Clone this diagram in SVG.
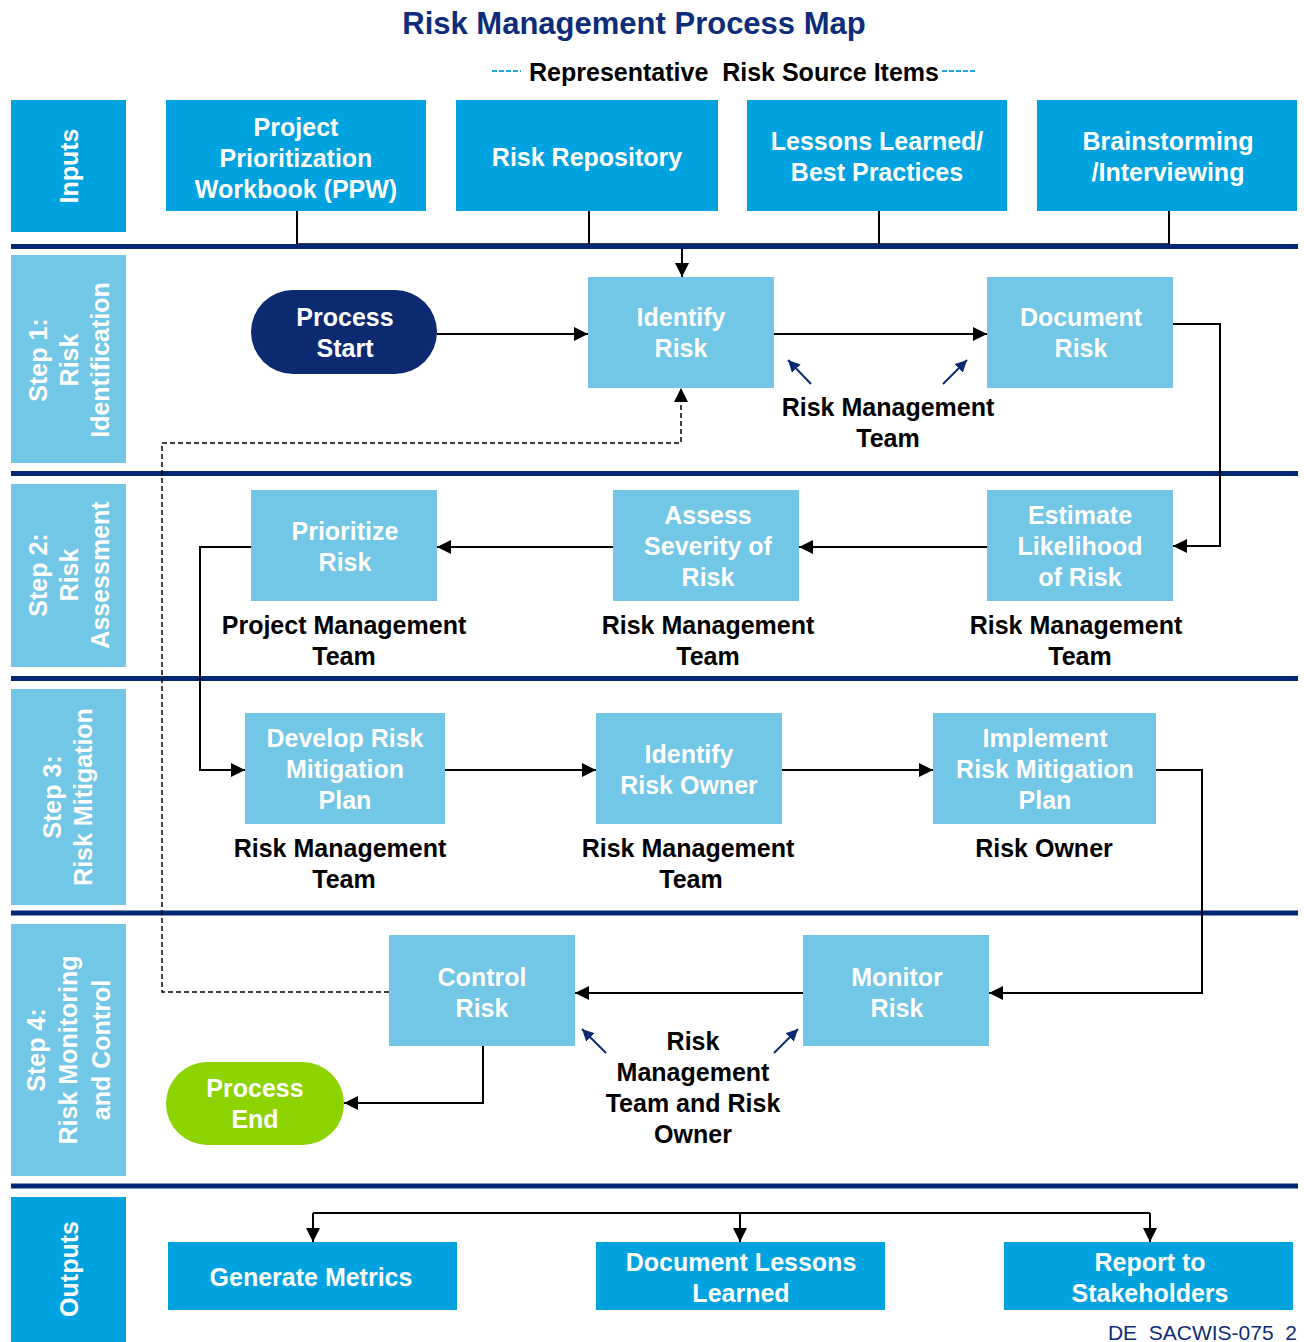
<svg xmlns="http://www.w3.org/2000/svg" width="1304" height="1342" viewBox="0 0 1304 1342">
<defs>
<style>
text{font-family:"Liberation Sans",Arial,sans-serif;font-weight:bold}
.title{font-size:31px;fill:#0D2C7A}
.sub{font-size:25px;fill:#000}
.w{font-size:25px;fill:#fff;text-anchor:middle}
.lbl{font-size:25px;fill:#000;text-anchor:middle}
.lane{font-size:25px;fill:#fff;text-anchor:middle}
.cyan{fill:#00A3E0}
.lb{fill:#72C6E6}
.div{stroke:#002776;stroke-width:5}
.c{fill:none;stroke:#000;stroke-width:2}
.d{fill:none;stroke:#000;stroke-width:1.5;stroke-dasharray:5 3}
.b{fill:none;stroke:#0B2A72;stroke-width:2}
.foot{font-family:"Liberation Sans",Arial,sans-serif;font-weight:normal;font-size:21px;fill:#0D2C7A}
</style>
<marker id="ah" markerUnits="userSpaceOnUse" markerWidth="16" markerHeight="14" refX="14" refY="7" orient="auto"><path d="M0,0 L14,7 L0,14 Z" fill="#000"/></marker>
<marker id="bh" markerUnits="userSpaceOnUse" markerWidth="14" markerHeight="12" refX="12" refY="6" orient="auto"><path d="M0,0 L12,6 L0,12 Z" fill="#0B2A72"/></marker>
</defs>
<rect width="1304" height="1342" fill="#fff"/>
<g id="title">
<text class="title" x="634" y="34" text-anchor="middle">Risk Management Process Map</text>
<line x1="492" y1="71" x2="521" y2="71" stroke="#1AA8E0" stroke-width="2" stroke-dasharray="5 2"/>
<text class="sub" x="734" y="81" text-anchor="middle" xml:space="preserve">Representative  Risk Source Items</text>
<line x1="942" y1="71" x2="976" y2="71" stroke="#1AA8E0" stroke-width="2" stroke-dasharray="5 2"/>
</g>
<g id="lanes">
<rect class="cyan" x="11" y="100" width="115" height="132"/>
<text class="lane" transform="translate(69,166) rotate(-90)" y="9">Inputs</text>
<rect class="lb" x="11" y="255" width="115" height="208"/>
<text class="lane" transform="translate(69,360) rotate(-90)"><tspan x="0" y="-22">Step 1:</tspan><tspan x="0" y="9">Risk</tspan><tspan x="0" y="40">Identification</tspan></text>
<rect class="lb" x="11" y="484" width="115" height="183"/>
<text class="lane" transform="translate(69,575) rotate(-90)"><tspan x="0" y="-22">Step 2:</tspan><tspan x="0" y="9">Risk</tspan><tspan x="0" y="40">Assessment</tspan></text>
<rect class="lb" x="11" y="689" width="115" height="216"/>
<text class="lane" transform="translate(69,797) rotate(-90)"><tspan x="0" y="-8">Step 3:</tspan><tspan x="0" y="23">Risk Mitigation</tspan></text>
<rect class="lb" x="11" y="924" width="115" height="252"/>
<text class="lane" transform="translate(69,1050) rotate(-90)"><tspan x="0" y="-24">Step 4:</tspan><tspan x="0" y="8">Risk Monitoring</tspan><tspan x="0" y="41">and Control</tspan></text>
<rect class="cyan" x="11" y="1197" width="115" height="145"/>
<text class="lane" transform="translate(69,1269) rotate(-90)" y="9">Outputs</text>
</g>
<g id="dividers">
<line x1="297" y1="244" x2="1169" y2="244" stroke="#000" stroke-width="1.5"/>
<line class="div" x1="11" y1="246.5" x2="1298" y2="246.5"/>
<line class="div" x1="11" y1="473.5" x2="1298" y2="473.5"/>
<line class="div" x1="11" y1="678.5" x2="1298" y2="678.5"/>
<line class="div" x1="11" y1="913" x2="1298" y2="913"/>
<line class="div" x1="11" y1="1186" x2="1298" y2="1186"/>
</g>
<g id="connectors">
<path class="c" d="M297,211 V244 M589,211 V244 M879,211 V244 M1169,211 V244"/>
<path class="c" d="M682,249 V277" marker-end="url(#ah)"/>
<path class="c" d="M437,334 H588" marker-end="url(#ah)"/>
<path class="c" d="M774,334 H987" marker-end="url(#ah)"/>
<path class="c" d="M1173,324 H1220 V546 H1173" marker-end="url(#ah)"/>
<path class="c" d="M987,547 H799" marker-end="url(#ah)"/>
<path class="c" d="M613,547 H437" marker-end="url(#ah)"/>
<path class="c" d="M251,547 H200 V770 H245" marker-end="url(#ah)"/>
<path class="c" d="M445,770 H596" marker-end="url(#ah)"/>
<path class="c" d="M782,770 H933" marker-end="url(#ah)"/>
<path class="c" d="M1156,770 H1202 V993 H989" marker-end="url(#ah)"/>
<path class="c" d="M803,993 H575" marker-end="url(#ah)"/>
<path class="c" d="M483,1046 V1103 H344" marker-end="url(#ah)"/>
<path class="d" d="M389,992 H162 V443 H681 V388" marker-end="url(#ah)"/>
<path class="c" d="M313,1213 H1150 M313,1213 V1242" marker-end="url(#ah)"/>
<path class="c" d="M740,1213 V1242" marker-end="url(#ah)"/>
<path class="c" d="M1150,1213 V1242" marker-end="url(#ah)"/>
<path class="b" d="M811,384 L788,360" marker-end="url(#bh)"/>
<path class="b" d="M943,384 L967,360" marker-end="url(#bh)"/>
<path class="b" d="M606,1053 L582,1029" marker-end="url(#bh)"/>
<path class="b" d="M774,1053 L798,1029" marker-end="url(#bh)"/>
</g>
<g id="in-ppw"><rect class="cyan" x="166" y="100" width="260" height="111"/><text class="w"><tspan x="296" y="136">Project</tspan><tspan x="296" y="167">Prioritization</tspan><tspan x="296" y="198">Workbook (PPW)</tspan></text></g>
<g id="in-repo"><rect class="cyan" x="456" y="100" width="262" height="111"/><text class="w" x="587" y="166">Risk Repository</text></g>
<g id="in-lessons"><rect class="cyan" x="747" y="100" width="260" height="111"/><text class="w"><tspan x="877" y="150">Lessons Learned/</tspan><tspan x="877" y="181">Best Practices</tspan></text></g>
<g id="in-brain"><rect class="cyan" x="1037" y="100" width="260" height="111"/><text class="w"><tspan x="1168" y="150">Brainstorming</tspan><tspan x="1168" y="181">/Interviewing</tspan></text></g>
<g id="process-start"><rect x="251" y="290" width="186" height="84" rx="42" fill="#0B2A72"/><text class="w"><tspan x="345" y="326">Process</tspan><tspan x="345" y="357">Start</tspan></text></g>
<g id="identify-risk"><rect class="lb" x="588" y="277" width="186" height="111"/><text class="w"><tspan x="681" y="326">Identify</tspan><tspan x="681" y="357">Risk</tspan></text></g>
<g id="document-risk"><rect class="lb" x="987" y="277" width="186" height="111"/><text class="w"><tspan x="1081" y="326">Document</tspan><tspan x="1081" y="357">Risk</tspan></text></g>
<g id="label-s1"><text class="lbl"><tspan x="888" y="416">Risk Management</tspan><tspan x="888" y="447">Team</tspan></text></g>
<g id="prioritize-risk"><rect class="lb" x="251" y="490" width="186" height="111"/><text class="w"><tspan x="345" y="540">Prioritize</tspan><tspan x="345" y="571">Risk</tspan></text></g>
<g id="assess-severity"><rect class="lb" x="613" y="490" width="186" height="111"/><text class="w"><tspan x="708" y="524">Assess</tspan><tspan x="708" y="555">Severity of</tspan><tspan x="708" y="586">Risk</tspan></text></g>
<g id="estimate-likelihood"><rect class="lb" x="987" y="490" width="186" height="111"/><text class="w"><tspan x="1080" y="524">Estimate</tspan><tspan x="1080" y="555">Likelihood</tspan><tspan x="1080" y="586">of Risk</tspan></text></g>
<g id="label-s2"><text class="lbl"><tspan x="344" y="634">Project Management</tspan><tspan x="344" y="665">Team</tspan></text><text class="lbl"><tspan x="708" y="634">Risk Management</tspan><tspan x="708" y="665">Team</tspan></text><text class="lbl"><tspan x="1076" y="634">Risk Management</tspan><tspan x="1080" y="665">Team</tspan></text></g>
<g id="develop-plan"><rect class="lb" x="245" y="713" width="200" height="111"/><text class="w"><tspan x="345" y="747">Develop Risk</tspan><tspan x="345" y="778">Mitigation</tspan><tspan x="345" y="809">Plan</tspan></text></g>
<g id="identify-owner"><rect class="lb" x="596" y="713" width="186" height="111"/><text class="w"><tspan x="689" y="763">Identify</tspan><tspan x="689" y="794">Risk Owner</tspan></text></g>
<g id="implement-plan"><rect class="lb" x="933" y="713" width="223" height="111"/><text class="w"><tspan x="1045" y="747">Implement</tspan><tspan x="1045" y="778">Risk Mitigation</tspan><tspan x="1045" y="809">Plan</tspan></text></g>
<g id="label-s3"><text class="lbl"><tspan x="340" y="857">Risk Management</tspan><tspan x="344" y="888">Team</tspan></text><text class="lbl"><tspan x="688" y="857">Risk Management</tspan><tspan x="691" y="888">Team</tspan></text><text class="lbl" x="1044" y="857">Risk Owner</text></g>
<g id="control-risk"><rect class="lb" x="389" y="935" width="186" height="111"/><text class="w"><tspan x="482" y="986">Control</tspan><tspan x="482" y="1017">Risk</tspan></text></g>
<g id="monitor-risk"><rect class="lb" x="803" y="935" width="186" height="111"/><text class="w"><tspan x="897" y="986">Monitor</tspan><tspan x="897" y="1017">Risk</tspan></text></g>
<g id="label-s4"><text class="lbl"><tspan x="693" y="1050">Risk</tspan><tspan x="693" y="1081">Management</tspan><tspan x="693" y="1112">Team and Risk</tspan><tspan x="693" y="1143">Owner</tspan></text></g>
<g id="process-end"><rect x="166" y="1062" width="178" height="83" rx="41.5" fill="#8DD300"/><text class="w"><tspan x="255" y="1097">Process</tspan><tspan x="255" y="1128">End</tspan></text></g>
<g id="out-metrics"><rect class="cyan" x="168" y="1242" width="289" height="68"/><text class="w" x="311" y="1286">Generate Metrics</text></g>
<g id="out-lessons"><rect class="cyan" x="596" y="1242" width="289" height="68"/><text class="w"><tspan x="741" y="1271">Document Lessons</tspan><tspan x="741" y="1302">Learned</tspan></text></g>
<g id="out-report"><rect class="cyan" x="1004" y="1242" width="289" height="68"/><text class="w"><tspan x="1150" y="1271">Report to</tspan><tspan x="1150" y="1302">Stakeholders</tspan></text></g>
<text class="foot" x="1297" y="1340" text-anchor="end" xml:space="preserve">DE  SACWIS-075  2</text>
</svg>
